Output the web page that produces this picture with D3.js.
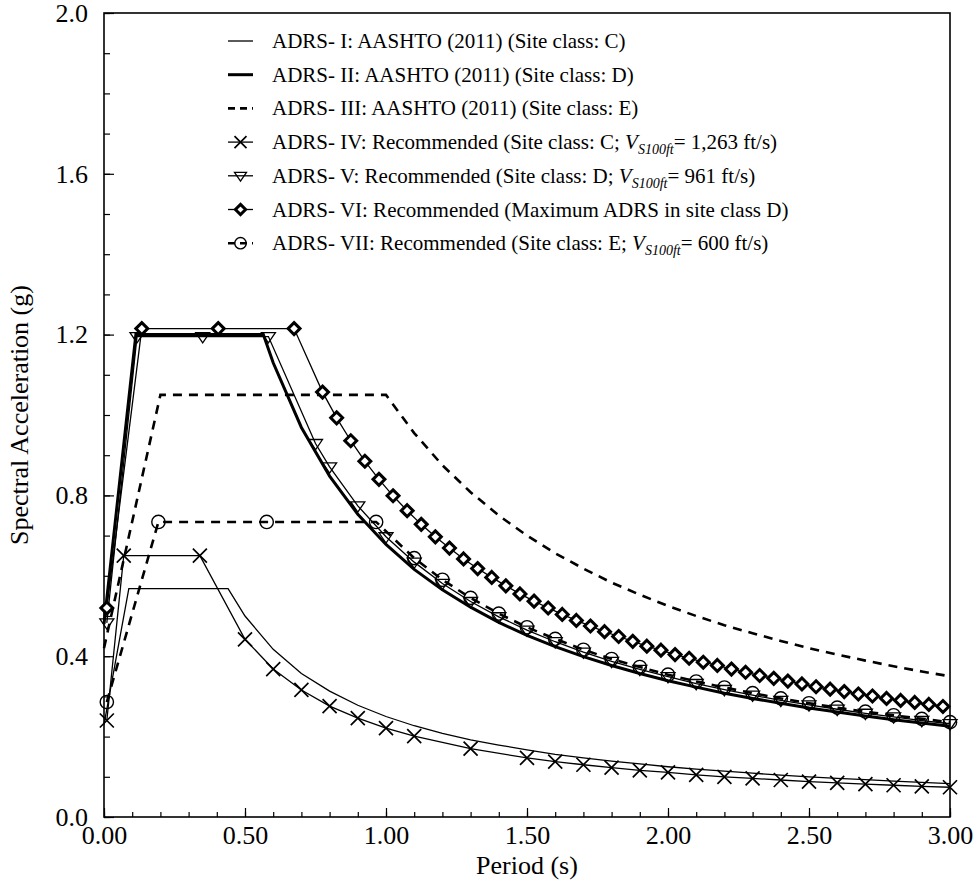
<!DOCTYPE html>
<html>
<head>
<meta charset="utf-8">
<script src="https://cdn.jsdelivr.net/npm/d3@7/dist/d3.min.js"></script>
<style>
  html, body { margin: 0; padding: 0; background: #fff; }
  svg { display: block; }
  text { font-family: "Liberation Serif", "Times New Roman", "DejaVu Serif", serif; fill: #000; }
</style>
</head>
<body>
<svg id="chart" width="977" height="884"></svg>
<script>
// ---------- DATA (periods in s, spectral acceleration in g) ----------
const adrs1T  = [0, 0.088, 0.44, 0.5, 0.6, 0.7, 0.8, 0.9, 1.0, 1.1, 1.2, 1.3, 1.4, 1.5, 1.6, 1.7, 1.8, 1.9, 2.0, 2.1, 2.2, 2.3, 2.4, 2.5, 2.6, 2.7, 2.8, 2.9, 3.0];
const adrs1Sa = [0.23, 0.568, 0.568, 0.500, 0.417, 0.357, 0.313, 0.278, 0.250, 0.227, 0.208, 0.192, 0.179, 0.167, 0.156, 0.147, 0.139, 0.132, 0.125, 0.119, 0.114, 0.109, 0.104, 0.100, 0.096, 0.093, 0.089, 0.086, 0.083];

const adrs2T  = [0, 0.113, 0.565, 0.6, 0.7, 0.8, 0.9, 1.0, 1.1, 1.2, 1.3, 1.4, 1.5, 1.6, 1.7, 1.8, 1.9, 2.0, 2.1, 2.2, 2.3, 2.4, 2.5, 2.6, 2.7, 2.8, 2.9, 3.0];
const adrs2Sa = [0.48, 1.20, 1.20, 1.130, 0.969, 0.848, 0.753, 0.678, 0.616, 0.565, 0.522, 0.484, 0.452, 0.424, 0.399, 0.377, 0.357, 0.339, 0.323, 0.308, 0.295, 0.283, 0.271, 0.261, 0.251, 0.242, 0.234, 0.226];

const adrs3T  = [0, 0.2, 1.0, 1.1, 1.2, 1.3, 1.4, 1.5, 1.6, 1.7, 1.8, 1.9, 2.0, 2.1, 2.2, 2.3, 2.4, 2.5, 2.6, 2.7, 2.8, 2.9, 3.0];
const adrs3Sa = [0.42, 1.05, 1.05, 0.955, 0.875, 0.808, 0.750, 0.700, 0.656, 0.618, 0.583, 0.553, 0.525, 0.500, 0.477, 0.457, 0.438, 0.420, 0.404, 0.389, 0.375, 0.362, 0.350];

const adrs4T  = [0.01, 0.07, 0.34, 0.5, 0.6, 0.7, 0.8, 0.9, 1.0, 1.1, 1.3, 1.5, 1.6, 1.7, 1.8, 1.9, 2.0, 2.1, 2.2, 2.3, 2.4, 2.5, 2.6, 2.7, 2.8, 2.9, 3.0];
const adrs4Sa = [0.24, 0.65, 0.65, 0.442, 0.368, 0.316, 0.276, 0.246, 0.221, 0.201, 0.170, 0.147, 0.138, 0.130, 0.123, 0.116, 0.111, 0.105, 0.100, 0.096, 0.092, 0.088, 0.085, 0.082, 0.079, 0.076, 0.074];

const adrs5T  = [0.01, 0.117, 0.35, 0.583, 0.75, 0.8, 0.9, 1.0, 1.1, 1.2, 1.3, 1.4, 1.5, 1.6, 1.7, 1.8, 1.9, 2.0, 2.1, 2.2, 2.3, 2.4, 2.5, 2.6, 2.7, 2.8, 2.9, 3.0];
const adrs5Sa = [0.483, 1.195, 1.195, 1.195, 0.929, 0.871, 0.774, 0.697, 0.634, 0.581, 0.536, 0.498, 0.465, 0.436, 0.410, 0.387, 0.367, 0.349, 0.332, 0.317, 0.303, 0.290, 0.279, 0.268, 0.258, 0.249, 0.240, 0.232];

const adrs6T  = [0.01, 0.134, 0.405, 0.674, 0.775, 0.825, 0.875, 0.925, 0.975, 1.025, 1.075, 1.125, 1.175, 1.225, 1.275, 1.325, 1.375, 1.425, 1.475, 1.525, 1.575, 1.625, 1.675, 1.725, 1.775, 1.825, 1.875, 1.925, 1.975, 2.025, 2.075, 2.125, 2.175, 2.225, 2.275, 2.325, 2.375, 2.425, 2.475, 2.525, 2.575, 2.625, 2.675, 2.725, 2.775, 2.825, 2.875, 2.925, 2.975];
const adrs6Sa = [0.52, 1.215, 1.215, 1.215, 1.057, 0.993, 0.936, 0.885, 0.840, 0.799, 0.762, 0.728, 0.697, 0.669, 0.642, 0.618, 0.596, 0.575, 0.555, 0.537, 0.520, 0.504, 0.489, 0.475, 0.461, 0.449, 0.437, 0.425, 0.415, 0.404, 0.395, 0.385, 0.377, 0.368, 0.360, 0.352, 0.345, 0.338, 0.331, 0.324, 0.318, 0.312, 0.306, 0.301, 0.295, 0.290, 0.285, 0.280, 0.275];

const adrs7T  = [0.01, 0.193, 0.577, 0.965, 1.1, 1.2, 1.3, 1.4, 1.5, 1.6, 1.7, 1.8, 1.9, 2.0, 2.1, 2.2, 2.3, 2.4, 2.5, 2.6, 2.7, 2.8, 2.9, 3.0];
const adrs7Sa = [0.286, 0.734, 0.734, 0.734, 0.644, 0.590, 0.545, 0.506, 0.472, 0.443, 0.416, 0.393, 0.373, 0.354, 0.337, 0.322, 0.308, 0.295, 0.283, 0.272, 0.262, 0.253, 0.244, 0.236];

const xMajorTicks = [0, 0.5, 1.0, 1.5, 2.0, 2.5, 3.0];
const yMajorTicks = [0, 0.4, 0.8, 1.2, 1.6, 2.0];
const xMinorTicks = d3.range(0, 31).map(i => i / 10);
const yMinorTicks = d3.range(0, 21).map(i => i / 10);

const xTitle = "Period (s)";
const yTitle = "Spectral Acceleration (g)";

// ---------- series definitions ----------
const series = [
  { name: "ADRS- I: AASHTO (2011) (Site class: C)", T: adrs1T, Sa: adrs1Sa, width: 1.3, dash: null, marker: null },
  { name: "ADRS- II: AASHTO (2011) (Site class: D)", T: adrs2T, Sa: adrs2Sa, width: 3, dash: null, marker: null },
  { name: "ADRS- III: AASHTO (2011) (Site class: E)", T: adrs3T, Sa: adrs3Sa, width: 2.6, dash: "9,7", marker: null },
  { name: ["ADRS- IV: Recommended (Site class: C; ", "= 1,263 ft/s)"], T: adrs4T, Sa: adrs4Sa, width: 1.3, dash: null, marker: "x" },
  { name: ["ADRS- V: Recommended (Site class: D; ", "= 961 ft/s)"], T: adrs5T, Sa: adrs5Sa, width: 1.3, dash: null, marker: "tri" },
  { name: "ADRS- VI: Recommended (Maximum ADRS in site class D)", T: adrs6T, Sa: adrs6Sa, width: 1.3, dash: null, marker: "dia" },
  { name: ["ADRS- VII: Recommended (Site class: E; ", "= 600 ft/s)"], T: adrs7T, Sa: adrs7Sa, width: 2.6, dash: "9,7", marker: "circ" }
];

// ---------- layout ----------
const svg = d3.select("#chart");
const L = 104, R = 950, T = 13, B = 817;
const x = d3.scaleLinear().domain([0, 3]).range([L, R]);
const y = d3.scaleLinear().domain([0, 2]).range([B, T]);
const FONT = "Liberation Serif, Times New Roman, serif";

// minor ticks
svg.append("g").attr("transform", `translate(0,${B})`)
  .call(d3.axisBottom(x).tickValues(xMinorTicks).tickSizeInner(-5).tickSizeOuter(0).tickFormat(""))
  .call(g => g.select(".domain").remove())
  .call(g => g.selectAll("line").attr("stroke", "#000").attr("stroke-width", 1.2));
svg.append("g").attr("transform", `translate(${L},0)`)
  .call(d3.axisLeft(y).tickValues(yMinorTicks).tickSizeInner(-6).tickSizeOuter(0).tickFormat(""))
  .call(g => g.select(".domain").remove())
  .call(g => g.selectAll("line").attr("stroke", "#000").attr("stroke-width", 1.2));

// major ticks + labels
svg.append("g").attr("transform", `translate(0,${B})`).attr("font-family", FONT)
  .call(d3.axisBottom(x).tickValues(xMajorTicks).tickSizeInner(-9).tickSizeOuter(0).tickPadding(9).tickFormat(d3.format(".2f")))
  .call(g => g.select(".domain").remove())
  .call(g => g.selectAll("line").attr("stroke", "#000").attr("stroke-width", 1.2))
  .call(g => g.selectAll("text").attr("font-size", 26).attr("font-family", FONT).attr("fill", "#000"));
svg.append("g").attr("transform", `translate(${L},0)`).attr("font-family", FONT)
  .call(d3.axisLeft(y).tickValues(yMajorTicks).tickSizeInner(-10).tickSizeOuter(0).tickPadding(16).tickFormat(d3.format(".1f")))
  .call(g => g.select(".domain").remove())
  .call(g => g.selectAll("line").attr("stroke", "#000").attr("stroke-width", 1.2))
  .call(g => g.selectAll("text").attr("font-size", 26).attr("font-family", FONT).attr("fill", "#000"));

// frame
svg.append("rect").attr("x", L).attr("y", T).attr("width", R - L).attr("height", B - T)
  .attr("fill", "none").attr("stroke", "#000").attr("stroke-width", 1.6);

// axis titles
svg.append("text").attr("x", (L + R) / 2).attr("y", 874).attr("text-anchor", "middle")
  .attr("font-size", 26).text(xTitle);
svg.append("text").attr("transform", `translate(28,${(T + B) / 2}) rotate(-90)`)
  .attr("text-anchor", "middle").attr("font-size", 26).text(yTitle);

// ---------- curves ----------
const line = d3.line().x(d => x(d[0])).y(d => y(d[1]));
const plot = svg.append("g");

function drawMarker(g, type, cx, cy, s) {
  if (type === "x") {
    g.append("path").attr("d", `M${cx - s},${cy - s}L${cx + s},${cy + s}M${cx - s},${cy + s}L${cx + s},${cy - s}`)
      .attr("stroke", "#000").attr("stroke-width", 1.7).attr("fill", "none");
  } else if (type === "tri") {
    const h = s * 1.05;
    g.append("path").attr("d", `M${cx - s},${cy - h * 0.55}L${cx + s},${cy - h * 0.55}L${cx},${cy + h * 0.85}Z`)
      .attr("stroke", "#000").attr("stroke-width", 1.3).attr("fill", "none");
  } else if (type === "dia") {
    const d = s * 0.85;
    g.append("path").attr("d", `M${cx},${cy - d}L${cx + d},${cy}L${cx},${cy + d}L${cx - d},${cy}Z`)
      .attr("stroke", "#000").attr("stroke-width", 3).attr("fill", "#fff");
  } else if (type === "circ") {
    g.append("circle").attr("cx", cx).attr("cy", cy).attr("r", s * 0.95)
      .attr("stroke", "#000").attr("stroke-width", 1.4).attr("fill", "none");
  }
}

series.forEach(s => {
  const pts = s.T.map((t, i) => [t, s.Sa[i]]);
  plot.append("path").datum(pts).attr("d", line)
    .attr("fill", "none").attr("stroke", "#000").attr("stroke-width", s.width)
    .attr("stroke-dasharray", s.dash).attr("stroke-linejoin", "miter");
});
series.forEach(s => {
  if (!s.marker) return;
  const g = plot.append("g");
  s.T.forEach((t, i) => drawMarker(g, s.marker, x(t), y(s.Sa[i]), 7));
});

// ---------- legend ----------
const leg = svg.append("g");
const legX0 = 228, legX1 = 253, legTextX = 272, legY0 = 41, legDy = 33.7;
series.forEach((s, i) => {
  const cy = legY0 + i * legDy;
  leg.append("line").attr("x1", legX0).attr("x2", legX1).attr("y1", cy).attr("y2", cy)
    .attr("stroke", "#000").attr("stroke-width", s.width).attr("stroke-dasharray", s.dash ? "7,5" : null);
  if (s.marker) drawMarker(leg, s.marker, (legX0 + legX1) / 2, cy, 6);
  const t = leg.append("text").attr("x", legTextX).attr("y", cy + 7).attr("font-size", 21);
  if (Array.isArray(s.name)) {
    t.append("tspan").text(s.name[0]);
    t.append("tspan").attr("font-style", "italic").text("V");
    t.append("tspan").attr("font-style", "italic").attr("font-size", 14).attr("dy", 5).text("S100ft");
    t.append("tspan").attr("dy", -5).text(s.name[1]);
  } else {
    t.text(s.name);
  }
});
</script>
</body>
</html>
